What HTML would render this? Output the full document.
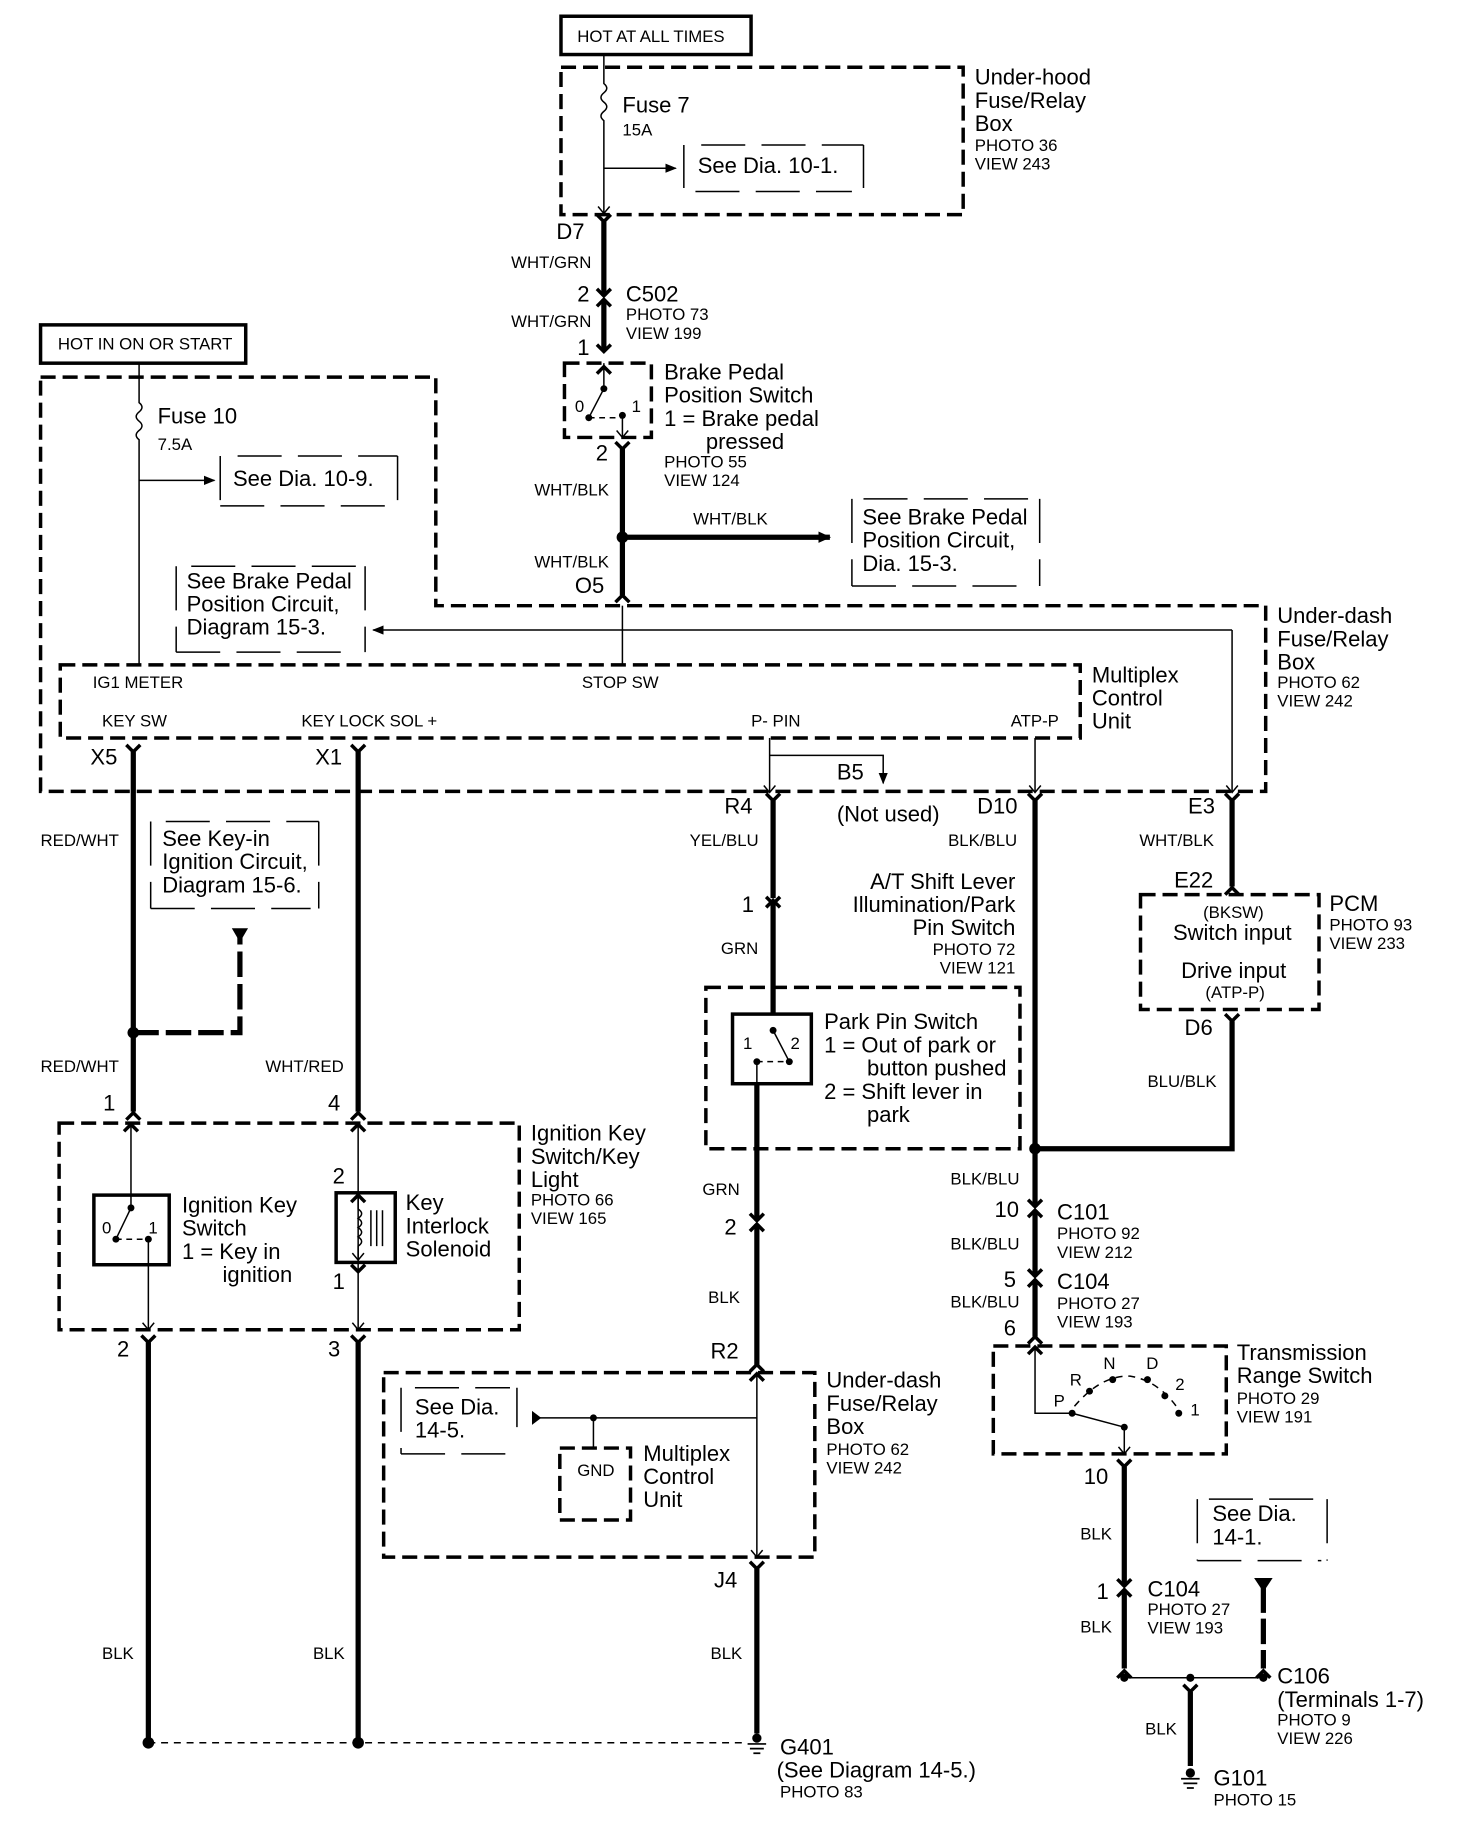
<!DOCTYPE html>
<html><head><meta charset="utf-8">
<style>
html,body{margin:0;padding:0;background:#fff;}
svg{display:block;}
text{font-family:"Liberation Sans",Arial,sans-serif;fill:#000;}
.b{font-size:19px;}
.s{font-size:14.5px;}
.th{stroke:#000;stroke-width:4.5;fill:none;}
.tn{stroke:#000;stroke-width:1.3;fill:none;}
.db{stroke:#000;stroke-width:3;fill:none;stroke-dasharray:13 6;}
.dl{stroke:#000;stroke-width:1.3;fill:none;stroke-dasharray:38 14;}
.sb{stroke:#000;stroke-width:3;fill:none;}
</style></head><body>
<svg width="1472" height="1824" viewBox="0 0 1270 1572" preserveAspectRatio="none" xmlns="http://www.w3.org/2000/svg">
<defs>
<marker id="ah" markerWidth="10" markerHeight="8" refX="9" refY="4" orient="auto" markerUnits="userSpaceOnUse"><path d="M0,0 L10,4 L0,8 Z" fill="#000"/></marker>
<marker id="av" markerWidth="12" markerHeight="10" refX="10" refY="5" orient="auto" markerUnits="userSpaceOnUse"><path d="M0,0 L11,5 L0,10 Z" fill="#000"/></marker>
<g id="Y"><path d="M-6,-6 L0,0 L6,-6" stroke="#000" stroke-width="3" fill="none"/></g>
<g id="A"><path d="M-6,6 L0,0 L6,6" stroke="#000" stroke-width="3" fill="none"/></g>
<g id="ya"><path d="M-5,-6 L0,0 L5,-6" stroke="#000" stroke-width="1.3" fill="none"/></g>
<g id="gnd"><circle cx="0" cy="-4" r="4" fill="#000"/><path d="M-8,1 H8 M-6,5 H6 M-3,9 H3" stroke="#000" stroke-width="1.5"/></g>
</defs>

<!-- TOP -->
<rect x="484" y="14" width="164" height="33" class="sb" stroke-width="2"/>
<text x="498" y="36" class="s">HOT AT ALL TIMES</text>
<rect x="484" y="58" width="347" height="127" class="db"/>
<path d="M521,47 V72 q5,4 0,8 q-5,4 0,8 q5,4 0,8 q-5,4 0,8 V184" class="tn"/>
<use href="#ya" x="521" y="184"/>
<text x="537" y="97" class="b">Fuse 7</text>
<text x="537" y="117" class="s">15A</text>
<line x1="521" y1="145" x2="583" y2="145" class="tn" marker-end="url(#ah)"/>
<path d="M590,125 V162 M745,125 V162 M605,125 H745 M600,165 H735" class="dl"/>
<text x="602" y="149" class="b">See Dia. 10-1.</text>
<text x="841" y="73" class="b">Under-hood</text>
<text x="841" y="93" class="b">Fuse/Relay</text>
<text x="841" y="113" class="b">Box</text>
<text x="841" y="130" class="s">PHOTO 36</text>
<text x="841" y="146" class="s">VIEW 243</text>

<text x="480" y="206" class="b">D7</text>
<use href="#Y" x="521" y="191"/>
<line x1="521" y1="191" x2="521" y2="255" class="th"/>
<use href="#Y" x="521" y="255"/>
<use href="#A" x="521" y="258"/>
<line x1="521" y1="258" x2="521" y2="302" class="th"/>
<use href="#Y" x="521" y="303"/>
<text x="441" y="231" class="s">WHT/GRN</text>
<text x="498" y="260" class="b">2</text>
<text x="540" y="260" class="b">C502</text>
<text x="540" y="276" class="s">PHOTO 73</text>
<text x="540" y="292" class="s">VIEW 199</text>
<text x="441" y="282" class="s">WHT/GRN</text>
<text x="498" y="306" class="b">1</text>

<!-- brake switch -->
<rect x="487" y="313" width="75" height="64" class="db"/>
<line x1="521" y1="313" x2="521" y2="335" class="tn"/>
<use href="#A" x="521" y="316"/>
<circle cx="521" cy="335" r="3" fill="#000"/>
<line x1="521" y1="335" x2="508" y2="360" class="tn" stroke-width="2"/>
<circle cx="508" cy="360" r="3" fill="#000"/>
<path d="M508,360 H537" class="tn" stroke-dasharray="5 4"/>
<circle cx="537" cy="358" r="3" fill="#000"/>
<line x1="537" y1="358" x2="537" y2="377" class="tn"/>
<use href="#ya" x="537" y="377"/>
<text x="496" y="355" class="s">0</text>
<text x="545" y="355" class="s">1</text>
<text x="514" y="397" class="b">2</text>
<use href="#Y" x="537" y="387"/>
<text x="573" y="327" class="b">Brake Pedal</text>
<text x="573" y="347" class="b">Position Switch</text>
<text x="573" y="367" class="b">1 =  Brake pedal</text>
<text x="609" y="387" class="b">pressed</text>
<text x="573" y="403" class="s">PHOTO 55</text>
<text x="573" y="419" class="s">VIEW 124</text>
<line x1="537" y1="387" x2="537" y2="513" class="th"/>
<use href="#A" x="537" y="513"/>
<text x="461" y="427" class="s">WHT/BLK</text>
<text x="461" y="489" class="s">WHT/BLK</text>
<text x="496" y="511" class="b">O5</text>
<circle cx="537" cy="463" r="5" fill="#000"/>
<line x1="537" y1="463" x2="716" y2="463" class="th" marker-end="url(#av)"/>
<text x="598" y="452" class="s">WHT/BLK</text>
<path d="M735,430 V505 M897,430 V505 M745,430 H897 M735,505 H890" class="dl"/>
<text x="744" y="452" class="b">See Brake Pedal</text>
<text x="744" y="472" class="b">Position  Circuit,</text>
<text x="744" y="492" class="b">Dia. 15-3.</text>

<!-- HOT IN ON -->
<rect x="35" y="280" width="177" height="33" class="sb" stroke-width="2"/>
<text x="50" y="301" class="s">HOT IN ON OR START</text>
<path d="M35,325 H376 V522 H1092 V682 H35 Z" class="db"/>
<path d="M120,313 V347 q5,4 0,8 q-5,4 0,8 q5,4 0,8 q-5,4 0,8 V573" class="tn"/>
<text x="136" y="365" class="b">Fuse 10</text>
<text x="136" y="388" class="s">7.5A</text>
<line x1="120" y1="414" x2="185" y2="414" class="tn" marker-end="url(#ah)"/>
<path d="M190,393 V436 M343,393 V436 M205,393 H343 M190,436 H335" class="dl"/>
<text x="201" y="419" class="b">See Dia. 10-9.</text>
<path d="M152,488 V562 M315,488 V562 M165,488 H315 M152,562 H308" class="dl"/>
<text x="161" y="507" class="b">See Brake Pedal</text>
<text x="161" y="527" class="b">Position  Circuit,</text>
<text x="161" y="547" class="b">Diagram 15-3.</text>
<line x1="1063" y1="543" x2="322" y2="543" class="tn" marker-end="url(#ah)"/>
<line x1="537" y1="522" x2="537" y2="573" class="tn"/>
<line x1="1063" y1="543" x2="1063" y2="683" class="tn"/>
<use href="#ya" x="1063" y="683"/>

<rect x="52" y="573" width="880" height="63" class="db"/>
<text x="80" y="593" class="s">IG1 METER</text>
<text x="502" y="593" class="s">STOP SW</text>
<text x="88" y="626" class="s">KEY SW</text>
<text x="260" y="626" class="s">KEY LOCK SOL +</text>
<text x="648" y="626" class="s">P- PIN</text>
<text x="872" y="626" class="s">ATP-P</text>
<text x="942" y="588" class="b">Multiplex</text>
<text x="942" y="608" class="b">Control</text>
<text x="942" y="628" class="b">Unit</text>
<text x="1102" y="537" class="b">Under-dash</text>
<text x="1102" y="557" class="b">Fuse/Relay</text>
<text x="1102" y="577" class="b">Box</text>
<text x="1102" y="593" class="s">PHOTO 62</text>
<text x="1102" y="609" class="s">VIEW 242</text>

<!-- left wires top -->
<text x="78" y="659" class="b">X5</text>
<use href="#Y" x="115" y="648"/>
<text x="272" y="659" class="b">X1</text>
<use href="#Y" x="309" y="648"/>
<line x1="115" y1="648" x2="115" y2="958" class="th"/>
<line x1="309" y1="648" x2="309" y2="958" class="th"/>
<use href="#A" x="115" y="959"/>
<use href="#A" x="309" y="959"/>
<text x="35" y="729" class="s">RED/WHT</text>
<text x="35" y="924" class="s">RED/WHT</text>
<text x="229" y="924" class="s">WHT/RED</text>
<path d="M130,708 V783 M275,708 V783 M143,708 H275 M130,783 H268" class="dl"/>
<text x="140" y="729" class="b">See Key-in</text>
<text x="140" y="749" class="b">Ignition Circuit,</text>
<text x="140" y="769" class="b">Diagram 15-6.</text>
<circle cx="115" cy="890" r="5" fill="#000"/>
<path d="M115,890 H207 V805" class="th" stroke-dasharray="22 6"/>
<path d="M200,800 H214 L207,812 Z" fill="#000"/>
<text x="89" y="957" class="b">1</text>
<text x="283" y="957" class="b">4</text>

<!-- ignition box -->
<rect x="51" y="968" width="397" height="178" class="db"/>
<line x1="113" y1="968" x2="113" y2="1041" class="tn"/>
<use href="#A" x="113" y="969"/>
<rect x="81" y="1030" width="65" height="60" class="sb"/>
<circle cx="113" cy="1041" r="3" fill="#000"/>
<line x1="113" y1="1041" x2="100" y2="1068" class="tn" stroke-width="2"/>
<circle cx="100" cy="1068" r="3" fill="#000"/>
<path d="M100,1068 H128" class="tn" stroke-dasharray="5 4"/>
<circle cx="128" cy="1068" r="3" fill="#000"/>
<line x1="128" y1="1068" x2="128" y2="1146" class="tn"/>
<use href="#ya" x="128" y="1146"/>
<text x="88" y="1063" class="s">0</text>
<text x="128" y="1063" class="s">1</text>
<text x="157" y="1045" class="b">Ignition Key</text>
<text x="157" y="1065" class="b">Switch</text>
<text x="157" y="1085" class="b">1 =  Key in</text>
<text x="192" y="1105" class="b">ignition</text>
<line x1="309" y1="968" x2="309" y2="1146" class="tn"/>
<use href="#A" x="309" y="969"/>
<use href="#A" x="309" y="1030"/>
<use href="#ya" x="309" y="1086"/>
<use href="#ya" x="309" y="1146"/>
<use href="#Y" x="309" y="1096"/>
<rect x="290" y="1028" width="51" height="60" class="sb" fill="#fff"/>
<path d="M309,1032 V1042 q6,4 0,8 q6,4 0,8 q6,4 0,8 q6,4 0,8 V1084" class="tn"/>
<path d="M320,1043 V1074 M325,1043 V1074 M330,1043 V1074" class="tn"/>
<text x="287" y="1020" class="b">2</text>
<text x="287" y="1111" class="b">1</text>
<text x="350" y="1043" class="b">Key</text>
<text x="350" y="1063" class="b">Interlock</text>
<text x="350" y="1083" class="b">Solenoid</text>
<text x="458" y="983" class="b">Ignition Key</text>
<text x="458" y="1003" class="b">Switch/Key</text>
<text x="458" y="1023" class="b">Light</text>
<text x="458" y="1039" class="s">PHOTO 66</text>
<text x="458" y="1055" class="s">VIEW 165</text>

<text x="101" y="1169" class="b">2</text>
<text x="283" y="1169" class="b">3</text>
<use href="#Y" x="128" y="1157"/>
<use href="#Y" x="309" y="1157"/>
<line x1="128" y1="1157" x2="128" y2="1502" class="th"/>
<line x1="309" y1="1157" x2="309" y2="1502" class="th"/>
<circle cx="128" cy="1502" r="5" fill="#000"/>
<circle cx="309" cy="1502" r="5" fill="#000"/>
<line x1="128" y1="1502" x2="645" y2="1502" class="tn" stroke-dasharray="6 5"/>
<text x="88" y="1430" class="s">BLK</text>
<text x="270" y="1430" class="s">BLK</text>

<!-- middle -->
<line x1="664" y1="636" x2="664" y2="683" class="tn"/>
<path d="M664,651 H762 V675" class="tn" marker-end="url(#ah)"/>
<use href="#ya" x="664" y="683"/>
<use href="#ya" x="893" y="683"/>
<line x1="893" y1="636" x2="893" y2="683" class="tn"/>
<text x="722" y="672" class="b">B5</text>
<text x="722" y="708" class="b">(Not used)</text>
<text x="625" y="701" class="b">R4</text>
<use href="#Y" x="667" y="690"/>
<line x1="667" y1="690" x2="667" y2="774" class="th"/>
<use href="#A" x="667" y="776"/>
<use href="#Y" x="667" y="779"/>
<line x1="667" y1="779" x2="667" y2="874" class="th"/>
<text x="595" y="729" class="s">YEL/BLU</text>
<text x="640" y="786" class="b">1</text>
<text x="622" y="822" class="s">GRN</text>
<text x="876" y="766" class="b" text-anchor="end">A/T Shift Lever</text>
<text x="876" y="786" class="b" text-anchor="end">Illumination/Park</text>
<text x="876" y="806" class="b" text-anchor="end">Pin Switch</text>
<text x="876" y="823" class="s" text-anchor="end">PHOTO 72</text>
<text x="876" y="839" class="s" text-anchor="end">VIEW 121</text>
<rect x="609" y="851" width="271" height="139" class="db"/>
<rect x="632" y="874" width="68" height="60" class="sb"/>
<circle cx="667" cy="888" r="3" fill="#000"/>
<line x1="667" y1="888" x2="681" y2="915" class="tn" stroke-width="2"/>
<circle cx="681" cy="915" r="3" fill="#000"/>
<path d="M653,915 H681" class="tn" stroke-dasharray="5 4"/>
<circle cx="653" cy="915" r="3" fill="#000"/>
<line x1="653" y1="915" x2="653" y2="934" class="tn"/>
<text x="641" y="904" class="s">1</text>
<text x="682" y="904" class="s">2</text>
<text x="711" y="887" class="b">Park Pin Switch</text>
<text x="711" y="907" class="b">1 =  Out of park or</text>
<text x="748" y="927" class="b">button pushed</text>
<text x="711" y="947" class="b">2 =  Shift lever in</text>
<text x="748" y="967" class="b">park</text>
<line x1="653" y1="934" x2="653" y2="1052" class="th"/>
<use href="#Y" x="653" y="1052"/>
<use href="#A" x="653" y="1055"/>
<line x1="653" y1="1055" x2="653" y2="1176" class="th"/>
<use href="#A" x="653" y="1176"/>
<text x="606" y="1030" class="s">GRN</text>
<text x="625" y="1064" class="b">2</text>
<text x="611" y="1123" class="s">BLK</text>
<text x="613" y="1171" class="b">R2</text>

<rect x="331" y="1183" width="372" height="159" class="db"/>
<line x1="653" y1="1183" x2="653" y2="1342" class="tn"/>
<use href="#A" x="653" y="1184"/>
<use href="#ya" x="653" y="1342"/>
<line x1="462" y1="1222" x2="653" y2="1222" class="tn"/>
<path d="M459,1216 L467,1222 L459,1228 Z" fill="#000"/>
<path d="M346,1196 V1253 M446,1196 V1230 M358,1196 H440 M346,1253 H446" class="dl"/>
<text x="358" y="1219" class="b">See Dia.</text>
<text x="358" y="1239" class="b">14-5.</text>
<circle cx="512" cy="1222" r="3" fill="#000"/>
<line x1="512" y1="1222" x2="512" y2="1248" class="tn"/>
<rect x="483" y="1248" width="61" height="62" class="db"/>
<text x="498" y="1272" class="s">GND</text>
<text x="555" y="1259" class="b">Multiplex</text>
<text x="555" y="1279" class="b">Control</text>
<text x="555" y="1299" class="b">Unit</text>
<text x="713" y="1196" class="b">Under-dash</text>
<text x="713" y="1216" class="b">Fuse/Relay</text>
<text x="713" y="1236" class="b">Box</text>
<text x="713" y="1254" class="s">PHOTO 62</text>
<text x="713" y="1270" class="s">VIEW 242</text>
<text x="616" y="1368" class="b">J4</text>
<use href="#Y" x="653" y="1352"/>
<line x1="653" y1="1352" x2="653" y2="1494" class="th"/>
<text x="613" y="1430" class="s">BLK</text>
<use href="#gnd" x="653" y="1502"/>
<text x="673" y="1512" class="b">G401</text>
<text x="670" y="1532" class="b">(See Diagram 14-5.)</text>
<text x="673" y="1549" class="s">PHOTO 83</text>

<!-- right D10 -->
<text x="843" y="701" class="b">D10</text>
<use href="#Y" x="893" y="690"/>
<line x1="893" y1="690" x2="893" y2="1040" class="th"/>
<text x="818" y="729" class="s">BLK/BLU</text>
<circle cx="893" cy="990" r="5" fill="#000"/>
<path d="M893,990 H1063 V880" class="th"/>
<text x="820" y="1021" class="s">BLK/BLU</text>
<text x="858" y="1049" class="b">10</text>
<use href="#Y" x="893" y="1040"/>
<use href="#A" x="893" y="1043"/>
<line x1="893" y1="1043" x2="893" y2="1100" class="th"/>
<use href="#Y" x="893" y="1100"/>
<use href="#A" x="893" y="1103"/>
<line x1="893" y1="1103" x2="893" y2="1152" class="th"/>
<use href="#A" x="893" y="1152"/>
<text x="912" y="1051" class="b">C101</text>
<text x="912" y="1068" class="s">PHOTO 92</text>
<text x="912" y="1084" class="s">VIEW 212</text>
<text x="820" y="1077" class="s">BLK/BLU</text>
<text x="866" y="1109" class="b">5</text>
<text x="912" y="1111" class="b">C104</text>
<text x="912" y="1128" class="s">PHOTO 27</text>
<text x="912" y="1144" class="s">VIEW 193</text>
<text x="820" y="1127" class="s">BLK/BLU</text>
<text x="866" y="1151" class="b">6</text>

<rect x="857" y="1160" width="201" height="93" class="db"/>
<path d="M893,1160 V1218 H925" class="tn"/>
<use href="#A" x="893" y="1161"/>
<line x1="925" y1="1218" x2="970" y2="1230" class="tn" stroke-width="2"/>
<circle cx="925" cy="1218" r="3" fill="#000"/>
<circle cx="970" cy="1230" r="3" fill="#000"/>
<line x1="970" y1="1230" x2="970" y2="1253" class="tn"/>
<use href="#ya" x="970" y="1253"/>
<circle cx="940" cy="1199" r="3" fill="#000"/>
<circle cx="960" cy="1189" r="3" fill="#000"/>
<circle cx="990" cy="1189" r="3" fill="#000"/>
<circle cx="1005" cy="1203" r="3" fill="#000"/>
<circle cx="1017" cy="1218" r="3" fill="#000"/>
<path d="M927,1212 Q950,1185 975,1186 Q1000,1190 1017,1215" class="tn" stroke-dasharray="6 5"/>
<text x="909" y="1212" class="s">P</text>
<text x="923" y="1194" class="s">R</text>
<text x="952" y="1180" class="s">N</text>
<text x="989" y="1180" class="s">D</text>
<text x="1014" y="1198" class="s">2</text>
<text x="1027" y="1220" class="s">1</text>
<text x="1067" y="1172" class="b">Transmission</text>
<text x="1067" y="1192" class="b">Range Switch</text>
<text x="1067" y="1210" class="s">PHOTO 29</text>
<text x="1067" y="1226" class="s">VIEW 191</text>

<text x="935" y="1279" class="b">10</text>
<use href="#Y" x="970" y="1264"/>
<line x1="970" y1="1264" x2="970" y2="1367" class="th"/>
<use href="#Y" x="970" y="1367"/>
<use href="#A" x="970" y="1370"/>
<line x1="970" y1="1370" x2="970" y2="1438" class="th"/>
<use href="#A" x="970" y="1440"/>
<text x="932" y="1327" class="s">BLK</text>
<text x="946" y="1378" class="b">1</text>
<text x="990" y="1376" class="b">C104</text>
<text x="990" y="1392" class="s">PHOTO 27</text>
<text x="990" y="1408" class="s">VIEW 193</text>
<text x="932" y="1407" class="s">BLK</text>
<path d="M1033,1292 V1345 M1145,1292 V1345 M1043,1292 H1145 M1033,1345 H1140" class="dl"/>
<text x="1046" y="1311" class="b">See Dia.</text>
<text x="1046" y="1331" class="b">14-1.</text>
<path d="M1082,1360 H1098 L1090,1372 Z" fill="#000"/>
<line x1="1090" y1="1368" x2="1090" y2="1438" class="th" stroke-dasharray="22 5"/>
<use href="#A" x="1090" y="1440"/>
<line x1="970" y1="1446" x2="1090" y2="1446" class="tn" stroke-width="1.8"/>
<circle cx="970" cy="1446" r="3.5" fill="#000"/>
<circle cx="1090" cy="1446" r="3.5" fill="#000"/>
<circle cx="1027" cy="1446" r="3.5" fill="#000"/>
<use href="#Y" x="1027" y="1458"/>
<line x1="1027" y1="1458" x2="1027" y2="1522" class="th"/>
<use href="#gnd" x="1027" y="1532"/>
<text x="988" y="1495" class="s">BLK</text>
<text x="1102" y="1451" class="b">C106</text>
<text x="1102" y="1471" class="b">(Terminals 1-7)</text>
<text x="1102" y="1487" class="s">PHOTO 9</text>
<text x="1102" y="1503" class="s">VIEW 226</text>
<text x="1047" y="1539" class="b">G101</text>
<text x="1047" y="1556" class="s">PHOTO 15</text>

<!-- E3 / PCM -->
<text x="1025" y="701" class="b">E3</text>
<use href="#Y" x="1063" y="690"/>
<line x1="1063" y1="690" x2="1063" y2="764" class="th"/>
<use href="#A" x="1063" y="765"/>
<text x="983" y="729" class="s">WHT/BLK</text>
<text x="1013" y="765" class="b">E22</text>
<rect x="984" y="771" width="154" height="99" class="db"/>
<text x="1038" y="791" class="s">(BKSW)</text>
<text x="1012" y="810" class="b">Switch input</text>
<text x="1019" y="843" class="b">Drive input</text>
<text x="1040" y="860" class="s">(ATP-P)</text>
<text x="1147" y="785" class="b">PCM</text>
<text x="1147" y="802" class="s">PHOTO 93</text>
<text x="1147" y="818" class="s">VIEW 233</text>
<text x="1022" y="892" class="b">D6</text>
<use href="#Y" x="1063" y="880"/>
<text x="990" y="937" class="s">BLU/BLK</text>
</svg>
</body></html>
